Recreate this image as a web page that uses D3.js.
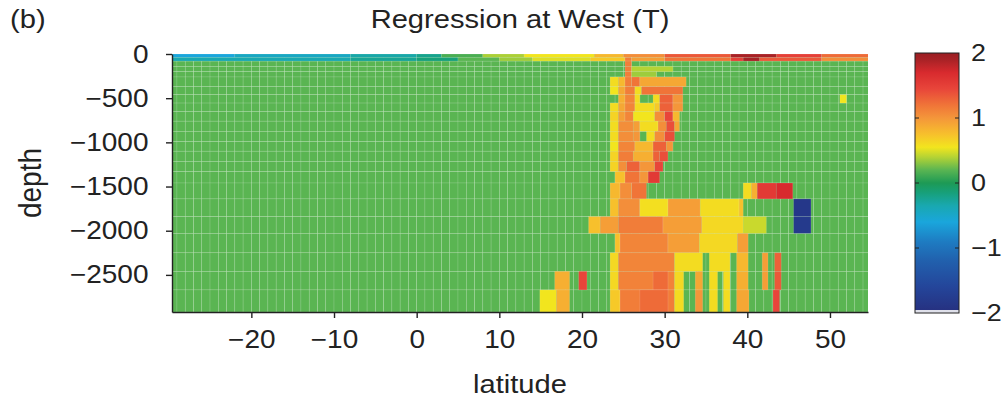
<!DOCTYPE html>
<html>
<head>
<meta charset="utf-8">
<script src="https://cdn.jsdelivr.net/npm/d3@7"></script>
<style>
  body { margin: 0; background: #fff; }
  svg { display: block; }
  text { font-family: "Liberation Sans", Arial, Helvetica, sans-serif; fill: #222; }
</style>
</head>
<body>
<div id="chart"></div>
<script>
// ---- data ----
// model layer boundaries (m below surface)
var depthEdges = [0, 40, 80, 140, 200, 260, 370, 460, 555, 650, 760, 875, 990,
                  1100, 1215, 1330, 1460, 1640, 1840, 2030, 2250, 2460, 2670, 2920];
var latExtent = [-29.6, 54.6];
var depthTicks = [0, -500, -1000, -1500, -2000, -2500];
var latTicks = [-20, -10, 0, 10, 20, 30, 40, 50];
var colorTicks = [-2, -1, 0, 1, 2];

// colour map (value -> colour), jet-like as in the colour bar
var colorStops  = [-2.0, -1.6, -1.2, -0.9, -0.6, -0.35, -0.15, 0.0, 0.2, 0.4, 0.55, 0.75, 1.0, 1.2, 1.45, 1.7, 1.9, 2.0];
var colorValues = ['#262f7e', '#24459a', '#2160ad', '#1e7cc2', '#1aa6dc', '#19a8b0', '#17a07a', '#1d9a55',
                   '#5ab552', '#b5d334', '#f2e51e', '#f7c02c', '#f4963a', '#f07438', '#e8453a', '#d82a2e',
                   '#a82226', '#9a1e22'];

// value of every cell not listed below
var background = 0.2;

// regression values: [layer, latFrom, latTo, value]
var surfaceCells = [
  [0, -30, -22, -0.6], [0, -22, -8, -0.45], [0, -8, 0, -0.32], [0, 0, 3, -0.22], [0, 3, 8, 0.15],
  [0, 8, 13, 0.38], [0, 13, 21.5, 0.55], [0, 21.5, 25, 0.8], [0, 25, 30, 1.05], [0, 30, 38, 1.35],
  [0, 38, 43.5, 1.9], [0, 43.5, 49, 1.5], [0, 49, 55, 1.25],
  [1, -30, -8, -0.35], [1, -8, 0, -0.25], [1, 0, 5, -0.15], [1, 5, 10, 0.2], [1, 10, 14, 0.35],
  [1, 14, 21, 0.5], [1, 21, 25.2, 0.7], [1, 25.2, 26, 1.15], [1, 26, 30, 0.95], [1, 30, 38, 1.2],
  [1, 38, 39.5, 1.5], [1, 39.5, 41.5, 1.9], [1, 41.5, 49, 1.35], [1, 49, 55, 1.05]
];

var plumeCells = [
  [2, 25.2, 26, 1.15],
  [3, 25.2, 26, 1.15], [3, 26, 31, 0.4],
  [4, 25.2, 26, 1.15], [4, 26, 29, 0.35],
  [5, 23.4, 24.4, 0.6], [5, 24.4, 25.2, 0.8], [5, 25.2, 26, 1.15], [5, 26, 27, 1.2], [5, 27, 32.6, 0.9],
  [6, 23.4, 24.4, 0.55], [6, 24.4, 25.2, 0.9], [6, 25.2, 26.4, 1.15], [6, 26.4, 27.2, 0.6], [6, 27.2, 32.2, 1.2],
  [7, 24.4, 25.2, 0.85], [7, 25.2, 26.4, 1.1], [7, 26.4, 27, 0.6], [7, 28.6, 29.4, 0.6], [7, 29.4, 31, 1.3],
  [7, 31, 32.2, 1.0], [7, 51.2, 52, 0.55],
  [8, 23.4, 24.4, 0.6], [8, 24.4, 25.2, 0.9], [8, 25.2, 26.4, 1.1], [8, 26.4, 28.8, 0.6], [8, 28.8, 29.4, 0.7],
  [8, 29.4, 31, 1.3], [8, 31, 32.2, 1.0],
  [9, 23.4, 24.4, 0.65], [9, 24.4, 25.2, 0.95], [9, 25.2, 26.2, 1.1], [9, 26.2, 28.8, 0.55], [9, 28.8, 30, 1.05],
  [9, 30, 31, 1.45], [9, 31, 31.8, 0.8],
  [10, 23.4, 24.4, 0.6], [10, 24.4, 26.2, 1.05], [10, 26.2, 27, 0.95], [10, 27, 29.2, 0.6], [10, 29.2, 30.2, 1.05],
  [10, 30.2, 31.2, 1.4], [10, 31.2, 31.8, 0.9],
  [11, 23.4, 24.4, 0.6], [11, 24.4, 26.2, 1.05], [11, 26.2, 27, 1.0], [11, 27.8, 28.8, 0.6], [11, 28.8, 30, 1.05],
  [11, 30, 31.2, 1.4],
  [12, 23.4, 24.4, 0.55], [12, 24.4, 26.4, 1.1], [12, 26.4, 28.6, 0.8], [12, 28.6, 30.2, 1.3], [12, 30.2, 31, 1.0],
  [13, 23.4, 24.4, 0.65], [13, 24.4, 26.2, 1.15], [13, 26.2, 28.6, 0.85], [13, 28.6, 29.4, 1.3], [13, 29.4, 30.4, 1.4],
  [14, 23.4, 24.4, 0.65], [14, 24.4, 25.4, 1.05], [14, 25.4, 27, 1.3], [14, 27, 28.8, 1.0], [14, 28.8, 29.8, 1.45],
  [15, 24, 25.2, 0.75], [15, 25.2, 27, 1.2], [15, 27, 28, 1.0], [15, 28, 29.4, 1.55]
];

var deepCells = [
  [16, 23.4, 24.6, 0.8], [16, 24.6, 26, 1.05], [16, 26, 27.8, 1.2], [16, 39.5, 40.5, 0.6], [16, 40.5, 41.2, 0.85],
  [16, 41.2, 43.5, 1.55], [16, 43.5, 45.5, 1.7],
  [17, 23.4, 24.4, 0.75], [17, 24.4, 27, 1.05], [17, 27, 30.4, 0.58], [17, 30.4, 34.3, 0.95], [17, 34.3, 39, 0.6],
  [17, 39, 39.5, 0.75], [17, 45.6, 47.7, -1.85],
  [18, 20.8, 22.2, 0.75], [18, 22.2, 24.4, 0.95], [18, 24.4, 29.8, 1.15], [18, 29.8, 34.5, 0.95], [18, 34.5, 39.5, 0.62],
  [18, 39.5, 42.3, 0.45], [18, 45.6, 47.7, -1.8],
  [19, 24, 24.6, 0.75], [19, 24.6, 30.4, 1.1], [19, 30.4, 34.2, 0.95], [19, 34.2, 38.8, 0.62], [19, 38.8, 40.1, 0.95],
  [20, 23.4, 24.4, 0.62], [20, 24.4, 31.2, 1.1], [20, 31.2, 34.6, 0.6], [20, 35.4, 37.9, 0.6], [20, 38.7, 40.1, 0.8],
  [20, 41.8, 42.5, 0.95], [20, 43.3, 44.1, 1.3],
  [21, 16.7, 18.5, 0.85], [21, 19.6, 20.6, 1.45], [21, 23.4, 24.4, 0.62], [21, 24.4, 31.2, 1.12], [21, 28.6, 30.4, 1.25],
  [21, 31.2, 32.3, 0.62], [21, 33.7, 34.6, 0.9], [21, 35.4, 36.4, 0.6], [21, 37.1, 37.9, 0.6], [21, 38.7, 40.1, 0.85],
  [21, 41.8, 42.5, 0.95], [21, 43.3, 44.1, 1.35],
  [22, 14.9, 16.9, 0.55], [22, 16.9, 18.5, 0.85], [22, 23.4, 24.6, 0.7], [22, 24.6, 31.2, 1.15], [22, 27, 30.4, 1.25],
  [22, 31.2, 32.3, 0.6], [22, 33.7, 34.6, 1.0], [22, 35.4, 36.4, 0.6], [22, 37.1, 37.9, 0.6], [22, 38.7, 40.2, 0.9],
  [22, 43.1, 43.9, 1.45]
];

// ---- layout ----
var width = 1003, height = 406;
var plot = { left: 172, right: 868, top: 54, bottom: 312 };
var bar = { left: 915, right: 959, top: 53, bottom: 313 };
var stretch = 'scale(1.12,1)';   // the source figure is a little wider than tall

var svg = d3.select('#chart').append('svg')
    .attr('width', width)
    .attr('height', height);

var x = d3.scaleLinear().domain(latExtent).range([plot.left, plot.right]);
var y = d3.scaleLinear().domain([0, -depthEdges[depthEdges.length - 1]]).range([plot.top, plot.bottom]);
var color = d3.scaleLinear().domain(colorStops).range(colorValues).clamp(true);
var fmt = d3.format('d');

svg.append('clipPath').attr('id', 'plot-clip')
  .append('rect')
    .attr('x', plot.left).attr('y', plot.top)
    .attr('width', plot.right - plot.left).attr('height', plot.bottom - plot.top);

var field = svg.append('g').attr('clip-path', 'url(#plot-clip)');

// background grid of 1 degree cells
var lats = d3.range(Math.floor(latExtent[0]), Math.ceil(latExtent[1]));
var bgCells = [];
for (var i = 0; i < depthEdges.length - 1; i++) {
  lats.forEach(function(l) { bgCells.push([i, l, l + 1, background]); });
}

function drawCells(cells, cls) {
  field.append('g').attr('class', cls)
    .selectAll('rect')
    .data(cells)
    .enter()
    .append('rect')
      .attr('x', d => x(d[1]))
      .attr('y', d => y(-depthEdges[d[0]]))
      .attr('width', d => x(d[2]) - x(d[1]))
      .attr('height', d => y(-depthEdges[d[0] + 1]) - y(-depthEdges[d[0]]))
      .attr('fill', d => color(d[3]))
      .attr('stroke', '#fff')
      .attr('stroke-opacity', 0.2)
      .attr('stroke-width', 0.6);
}

drawCells(bgCells, 'background');
drawCells(surfaceCells, 'surface');
drawCells(plumeCells, 'plume');
drawCells(deepCells, 'deep');

// ---- axes ----
var yAxis = svg.append('g')
    .attr('transform', 'translate(' + plot.left + ',0)')
    .call(d3.axisLeft(y).tickValues(depthTicks).tickFormat(fmt)
      .tickSize(6).tickPadding(15).tickSizeOuter(0));
var xAxis = svg.append('g')
    .attr('transform', 'translate(0,' + plot.bottom + ')')
    .call(d3.axisBottom(x).tickValues(latTicks).tickFormat(fmt)
      .tickSize(6).tickPadding(12).tickSizeOuter(0));

[xAxis, yAxis].forEach(function(ax) {
  ax.select('.domain').attr('stroke', '#222').attr('stroke-width', 1.4);
  ax.selectAll('.tick line').attr('stroke', '#222').attr('stroke-width', 1.4);
  ax.selectAll('.tick text')
    .attr('font-size', 25)
    .attr('font-family', '"Liberation Sans", Arial, sans-serif')
    .attr('fill', '#222')
    .attr('transform', stretch);
});

// ---- labels ----
svg.append('text')
    .attr('transform', 'translate(' + (plot.left + plot.right) / 2 + ',28) ' + stretch)
    .attr('text-anchor', 'middle')
    .attr('font-size', 26)
    .text('Regression at West (T)');

svg.append('text')
    .attr('transform', 'translate(10,28) ' + stretch)
    .attr('font-size', 26)
    .text('(b)');

svg.append('text')
    .attr('transform', 'translate(' + (plot.left + plot.right) / 2 + ',393) ' + stretch)
    .attr('text-anchor', 'middle')
    .attr('font-size', 26)
    .text('latitude');

svg.append('text')
    .attr('transform', 'translate(41,' + (plot.top + plot.bottom) / 2 + ') ' + stretch + ' rotate(-90)')
    .attr('text-anchor', 'middle')
    .attr('font-size', 28)
    .text('depth');

// ---- colour bar ----
var c = d3.scaleLinear().domain([-2, 2]).range([bar.bottom, bar.top]);

var grad = svg.append('defs').append('linearGradient')
    .attr('id', 'cbar')
    .attr('x1', 0).attr('y1', 1).attr('x2', 0).attr('y2', 0);
grad.selectAll('stop')
    .data(colorStops)
    .enter()
    .append('stop')
      .attr('offset', d => (d + 2) / 4)
      .attr('stop-color', d => color(d));

svg.append('rect')
    .attr('x', bar.left).attr('y', bar.top)
    .attr('width', bar.right - bar.left).attr('height', bar.bottom - bar.top)
    .attr('fill', 'url(#cbar)');
svg.append('rect')
    .attr('x', bar.left).attr('y', bar.bottom - 3)
    .attr('width', bar.right - bar.left).attr('height', 3)
    .attr('fill', '#dfe0ea');
svg.append('rect')
    .attr('x', bar.left).attr('y', bar.top)
    .attr('width', bar.right - bar.left).attr('height', bar.bottom - bar.top)
    .attr('fill', 'none')
    .attr('stroke', '#222')
    .attr('stroke-width', 1);

var cticks = svg.append('g').selectAll('g')
    .data(colorTicks)
    .enter()
    .append('g');
cticks.filter(d => d > -2 && d < 2).each(function(d) {
  var g = d3.select(this);
  g.append('line').attr('x1', bar.left).attr('x2', bar.left + 4)
    .attr('y1', c(d)).attr('y2', c(d)).attr('stroke', '#222');
  g.append('line').attr('x1', bar.right - 4).attr('x2', bar.right)
    .attr('y1', c(d)).attr('y2', c(d)).attr('stroke', '#222');
});
cticks.append('text')
    .attr('transform', d => 'translate(971,' + c(d) + ') ' + stretch)
    .attr('dy', '0.35em')
    .attr('font-size', 24)
    .text(d => fmt(d));
</script>
</body>
</html>
